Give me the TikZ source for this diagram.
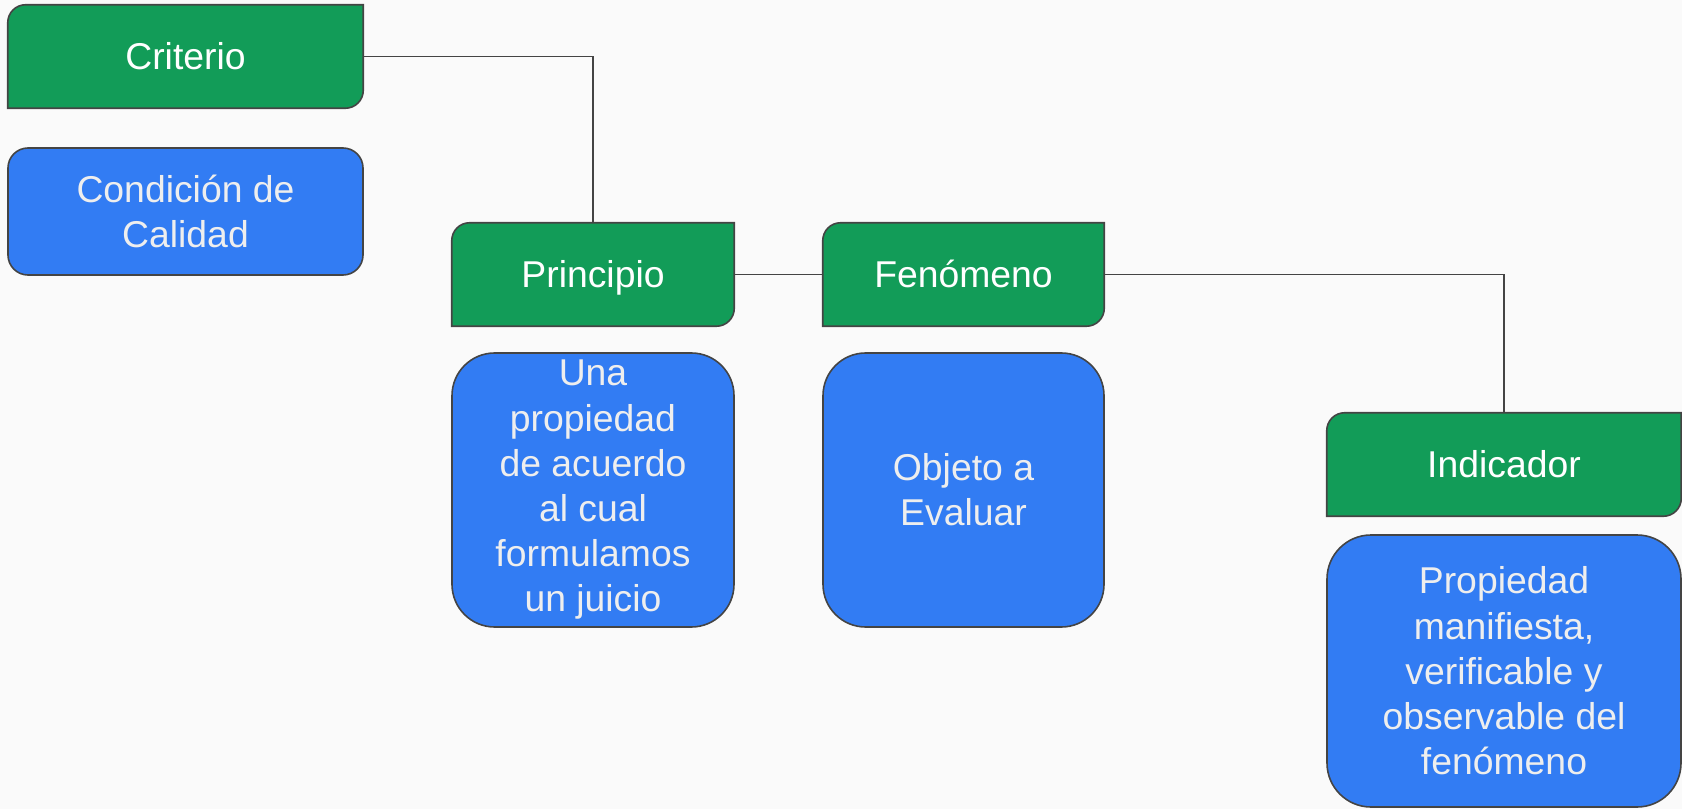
\documentclass[tikz,border=0pt]{standalone}
\usepackage{fontspec}
\setmainfont{Liberation Sans}
\usetikzlibrary{backgrounds}
\definecolor{bgc}{HTML}{FAFAFA}
\definecolor{gfill}{HTML}{129C58}
\definecolor{bfill}{HTML}{327CF3}
\definecolor{edge}{HTML}{444444}
\definecolor{btext}{HTML}{EEEEEE}
\tikzset{
  gnode/.style={inner sep=0pt, minimum height=77.25pt, align=center, text=white,
    text height=20pt, text depth=0pt,
    font=\fontsize{28}{33.75}\selectfont},
  bnode/.style={draw=edge, line width=1.2pt, fill=bfill, inner sep=0pt, align=center, text=btext,
    font=\fontsize{28}{33.9}\selectfont},
  gshape/.style={draw=edge, line width=1.2pt, fill=gfill},
  conn/.style={draw=edge, line width=1.2pt}
}
\newcommand\greenshape[1]{%
  \filldraw[gshape] (#1.north east) -- ([xshift=13.5pt]#1.north west)
    .. controls ([xshift=6pt]#1.north west) and ([yshift=-6pt]#1.north west) .. ([yshift=-13.5pt]#1.north west)
    -- (#1.south west) -- ([xshift=-13.5pt]#1.south east)
    .. controls ([xshift=-6pt]#1.south east) and ([yshift=6pt]#1.south east) .. ([yshift=13.5pt]#1.south east)
    -- cycle;}
\begin{document}
\begin{tikzpicture}[x=0.75pt, y=-0.75pt]
\useasboundingbox (0,0) rectangle (1682,809);
% green header nodes
\node[gnode, minimum width=266.25pt] (crit) at (185.5,56.5) {Criterio};
\node[gnode, minimum width=211.5pt] (princ) at (593,274.5) {Principio};
\node[gnode, minimum width=210.75pt] (fen) at (963.5,274.5) {Fenómeno};
\node[gnode, minimum width=265.5pt] (ind) at (1504,464.5) {Indicador};
% blue description nodes
\node[bnode, rounded corners=15pt, minimum width=266.25pt, minimum height=95.25pt] (cond) at (185.5,211.5) {Condición de\\Calidad};
\node[bnode, rounded corners=32pt, minimum width=211.5pt, minimum height=205.5pt] (princd) at (593,490) {Una\\propiedad\\de acuerdo\\al cual\\formulamos\\un juicio};
\node[bnode, rounded corners=32pt, minimum width=210.75pt, minimum height=205.5pt] (fend) at (963.5,490) {Objeto a\\Evaluar};
\node[bnode, rounded corners=33pt, minimum width=265.5pt, minimum height=204pt] (indd) at (1504,671) {Propiedad\\manifiesta,\\verificable y\\observable del\\fenómeno};
% connectors
\draw[conn] (crit.east) -| (princ.north);
\draw[conn] (princ.east) -- (fen.west);
\draw[conn] (fen.east) -| (ind.north);
\begin{scope}[on background layer]
  \fill[bgc] (0,0) rectangle (1682,809);
  \greenshape{crit}
  \greenshape{princ}
  \greenshape{fen}
  \greenshape{ind}
\end{scope}
\end{tikzpicture}
\end{document}
